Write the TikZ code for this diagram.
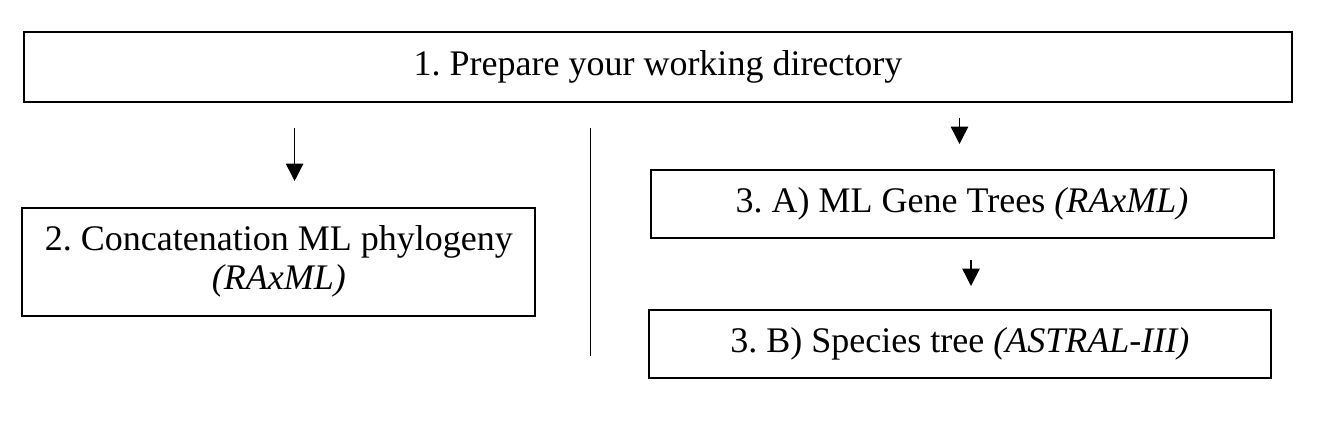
\documentclass[tikz,border=0pt]{standalone}
\usepackage{fontspec}
\setmainfont{Liberation Serif}
\usetikzlibrary{arrows.meta}
\frenchspacing
\begin{document}
\begin{tikzpicture}[x=0.75pt,y=-0.75pt,
 box/.style={draw, line width=1.5pt, inner sep=0pt, align=center, font=\fontsize{27}{29.3}\selectfont},
 arr/.style={line width=1.1pt, -{Triangle[length=13pt,width=13pt]}},
 sep/.style={line width=1pt}
 ]
\path[use as bounding box] (0,0) rectangle (1320,424);
\node[box, minimum width=950.7pt, minimum height=52.5pt] (prep) at (658,66.7) {1. Prepare your working directory};
\node[box, minimum width=384.8pt, minimum height=81pt] (concat) at (278.9,261.7) {2. Concatenation ML phylogeny\\ \textit{(RAxML)}};
\node[box, minimum width=467.25pt, minimum height=51pt] (gene) at (962,204) {3. A) ML Gene Trees \textit{(RAxML)}};
\node[box, minimum width=466.35pt, minimum height=50.8pt] (species) at (959.9,343.9) {3. B) Species tree \textit{(ASTRAL-III)}};
\coordinate (a1s) at (294.6,127.7);
\coordinate (a1e) at (294.6,181);
\coordinate (a2s) at (959.5,117.7);
\coordinate (a2e) at (959.5,144);
\coordinate (a3s) at (971,260);
\coordinate (a3e) at (971,286);
\coordinate (v1) at (590.5,127.7);
\coordinate (v2) at (590.5,356);
\draw[arr] (a1s) -- (a1e);
\draw[arr] (a2s) -- (a2e);
\draw[arr] (a3s) -- (a3e);
\draw[sep] (v1) -- (v2);
\end{tikzpicture}
\end{document}
